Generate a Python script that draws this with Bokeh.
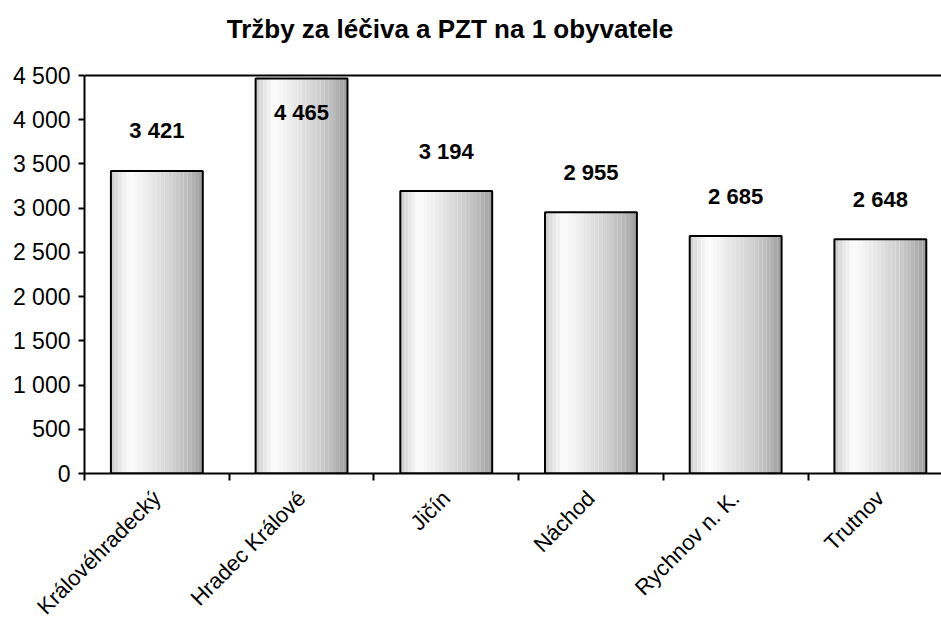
import numpy as np
from bokeh.plotting import figure
from bokeh.models import Range1d, FixedTicker, Span, ColumnDataSource, Label
from bokeh.core.properties import value
from bokeh.embed import file_html
from bokeh.resources import INLINE

title_text = "Tržby za léčiva a PZT na 1 obyvatele"
categories = ["Královéhradecký", "Hradec Králové", "Jičín", "Náchod", "Rychnov n. K.", "Trutnov"]
values = [3421, 4465, 3194, 2955, 2685, 2648]
value_labels = ["3 421", "4 465", "3 194", "2 955", "2 685", "2 648"]
y_ticks = [0, 500, 1000, 1500, 2000, 2500, 3000, 3500, 4000, 4500]
y_tick_labels = ["0", "500", "1 000", "1 500", "2 000", "2 500", "3 000", "3 500", "4 000", "4 500"]
y_max = 4500

FONT = "Liberation Sans"
n = len(categories)
centers = np.arange(n) + 0.5
bar_w = 0.635
PX_X = 144.7          # pixels per category
PX_Y = 398 / y_max    # pixels per unit
FRAME_H = 473         # frame reaches the top of the canvas (title drawn inside)

p = figure(frame_width=857, frame_height=FRAME_H,
           x_range=Range1d(0, 857 / PX_X), y_range=Range1d(0, FRAME_H / PX_Y),
           output_backend="svg", toolbar_location=None,
           min_border_left=84, min_border_right=0, min_border_top=0, min_border_bottom=149)
p.outline_line_color = None
p.grid.visible = False
p.background_fill_color = "white"

# gradient stripes
prof_t = [0.0, 0.08, 0.2, 0.3, 0.5, 0.7, 0.85, 1.0]
prof_g = [200, 228, 252, 246, 226, 206, 186, 158]
N = 24
sw = bar_w / N
offs = -bar_w / 2 + sw * (np.arange(N) + 0.5)
grays = np.interp((np.arange(N) + 0.5) / N, prof_t, prof_g).astype(int)
cols = ["#%02x%02x%02x" % (g, g, g) for g in grays]
sx = (np.repeat(centers, N) + np.tile(offs, n))
stop = np.repeat(values, N)
scol = cols * n
p.vbar(x=sx, top=stop, bottom=0, width=sw * 1.02, fill_color=scol, line_color=None)
p.vbar(x=centers, top=values, bottom=0, width=bar_w, fill_color=None,
       line_color="black", line_width=2)

# value labels
offsets = [34 if v > 4100 else -40 for v in values]
src = ColumnDataSource(dict(x=centers, y=values, t=value_labels, o=offsets))
p.text(x="x", y="y", text="t", y_offset="o", source=src, text_align="center",
       text_baseline="middle", text_font=value(FONT),
       text_font_style="bold", text_font_size="22px", text_color="black")

p.add_layout(Span(location=y_max, dimension="width", line_color="black", line_width=2))

# y axis
ya = p.yaxis[0]
ya.bounds = (0, y_max)
ya.ticker = FixedTicker(ticks=y_ticks)
ya.major_label_overrides = {t: l for t, l in zip(y_ticks, y_tick_labels)}
ya.axis_line_width = 2
ya.major_tick_line_width = 2
ya.major_tick_out = 6
ya.major_tick_in = 0
ya.minor_tick_line_color = None
ya.major_label_standoff = 8
ya.major_label_text_font = FONT
ya.major_label_text_font_size = "23px"
ya.major_label_text_color = "black"

# x axis
xa = p.xaxis[0]
xa.ticker = FixedTicker(ticks=list(centers), minor_ticks=list(range(n + 1)))
xa.major_label_overrides = {float(c): l for c, l in zip(centers, categories)}
xa.axis_line_width = 2
xa.major_tick_line_color = None
xa.major_tick_out = 0
xa.major_tick_in = 0
xa.minor_tick_line_width = 2
xa.minor_tick_out = 7
xa.minor_tick_in = 0
xa.major_label_orientation = np.pi / 4
xa.major_label_standoff = 14
xa.major_label_text_font = FONT
xa.major_label_text_font_size = "22px"
xa.major_label_text_color = "black"

# chart title (inside the extended frame, above the plotting area)
title = Label(x=(449.5 - 84) / PX_X, y=(473 - 28) / PX_Y, text=title_text,
              text_align="center", text_baseline="middle", text_font=FONT,
              text_font_style="bold", text_font_size="26px", text_color="black")
p.add_layout(title)

open("out.html", "w").write(file_html(p, INLINE))
